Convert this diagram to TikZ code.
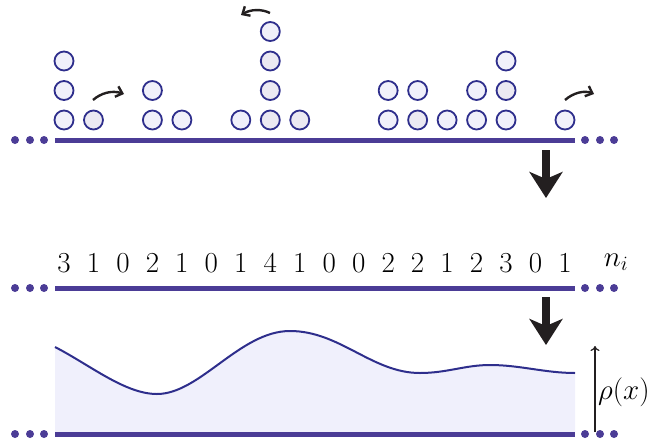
\RequirePackage{fix-cm}
\documentclass[tikz,border=0pt]{standalone}
\usetikzlibrary{arrows.meta}

\definecolor{chain}{RGB}{75,60,150}
\definecolor{ring}{RGB}{46,46,140}
\definecolor{pfill}{RGB}{240,240,250}
\definecolor{pgrey}{RGB}{235,233,242}
\definecolor{dens}{RGB}{240,240,252}
\definecolor{ink}{RGB}{35,31,32}

\tikzset{
  chainline/.style={line width=5pt, chain},
  chaindot/.style={circle, fill=chain, inner sep=0pt, minimum size=8pt},
  particle/.style={circle, draw=ring, line width=1.8pt, minimum size=19pt, inner sep=0pt},
  occ/.style={font=\fontsize{29}{34}\selectfont, inner sep=0pt},
  hop/.style={line width=2.4pt, ink, -{Straight Barb[length=6pt,width=11pt]}},
  coarse/.style={line width=8pt, ink, -{Stealth[length=26pt,width=33pt,inset=7pt]}},
  profile/.style={ring, line width=2pt},
}

\begin{document}
\begin{tikzpicture}[x=1pt,y=-1pt]
  \useasboundingbox (0,0) rectangle (655,442);

  % density profile (drawn first so the lattice sits on top)
  \fill[dens] (55,434) -- (55,347)
    .. controls (90,365) and (125,394) .. (157,394)
    .. controls (200,394) and (240,331) .. (290,331)
    .. controls (340,331) and (372,373) .. (420,373)
    .. controls (447,373) and (465,365) .. (490,365)
    .. controls (520,365) and (545,373) .. (575,373)
    -- (575,434) -- cycle;
  \draw[profile] (55,347)
    .. controls (90,365) and (125,394) .. (157,394)
    .. controls (200,394) and (240,331) .. (290,331)
    .. controls (340,331) and (372,373) .. (420,373)
    .. controls (447,373) and (465,365) .. (490,365)
    .. controls (520,365) and (545,373) .. (575,373);

  % three copies of the lattice, each with dotted continuations
  \foreach \row/\yy in {top/140, mid/288, bot/434} {
    \coordinate (\row-a) at (55,\yy);
    \coordinate (\row-b) at (575,\yy);
    \draw[chainline] (\row-a) -- (\row-b);
    \foreach \dx [count=\d] in {15,30,44} {
      \node[chaindot] (\row-l\d) at (\dx,\yy) {};
    }
    \foreach \dx [count=\d] in {585,600,614} {
      \node[chaindot] (\row-r\d) at (\dx,\yy) {};
    }
  }

  % particles stacked on their sites (bottom to top)
  \foreach \i/\col in {0/{pfill,pfill,pfill}, 1/{pgrey}, 3/{pfill,pfill},
      4/{pfill}, 6/{pfill}, 7/{pgrey,pgrey,pgrey,pfill}, 8/{pgrey},
      11/{pfill,pfill}, 12/{pgrey,pfill}, 13/{pfill}, 14/{pfill,pfill},
      15/{pfill,pgrey,pfill}, 17/{pfill}} {
    \foreach \f [count=\k from 0] in \col {
      \node[particle, fill=\f] (p\i-\k) at ({64+29.47*\i},{120-29.5*\k}) {};
    }
  }

  % hopping moves
  \coordinate (h1a) at (93,100);  \coordinate (h1b) at (124,94);
  \coordinate (h2a) at (270,13);  \coordinate (h2b) at (241,15);
  \coordinate (h3a) at (565,100); \coordinate (h3b) at (594,94);
  \draw[hop] (h1a) .. controls (101,93) and (112,90) .. (h1b);
  \draw[hop] (h2a) .. controls (262,9) and (251,9) .. (h2b);
  \draw[hop] (h3a) .. controls (573,93) and (584,90) .. (h3b);

  % occupation numbers
  \foreach \n [count=\i from 0] in {3,1,0,2,1,0,1,4,1,0,0,2,2,1,2,3,0,1} {
    \node[occ] (n\i) at ({64+29.47*\i},263) {\n};
  }
  \node[occ] (ni) at (616,262) {$n_i$};

  % coarse-graining arrows
  \coordinate (c1a) at (546,150); \coordinate (c1b) at (546,198);
  \coordinate (c2a) at (546,297); \coordinate (c2b) at (546,345);
  \draw[coarse] (c1a) -- (c1b);
  \draw[coarse] (c2a) -- (c2b);

  % density axis
  \coordinate (ra) at (595,432);
  \coordinate (rb) at (595,346);
  \draw[line width=1.2pt, ink, -{To[length=5pt,width=9pt]}] (ra) -- (rb);
  \node[occ, anchor=west] (rho) at (598,392) {$\rho(x)$};
\end{tikzpicture}
\end{document}
